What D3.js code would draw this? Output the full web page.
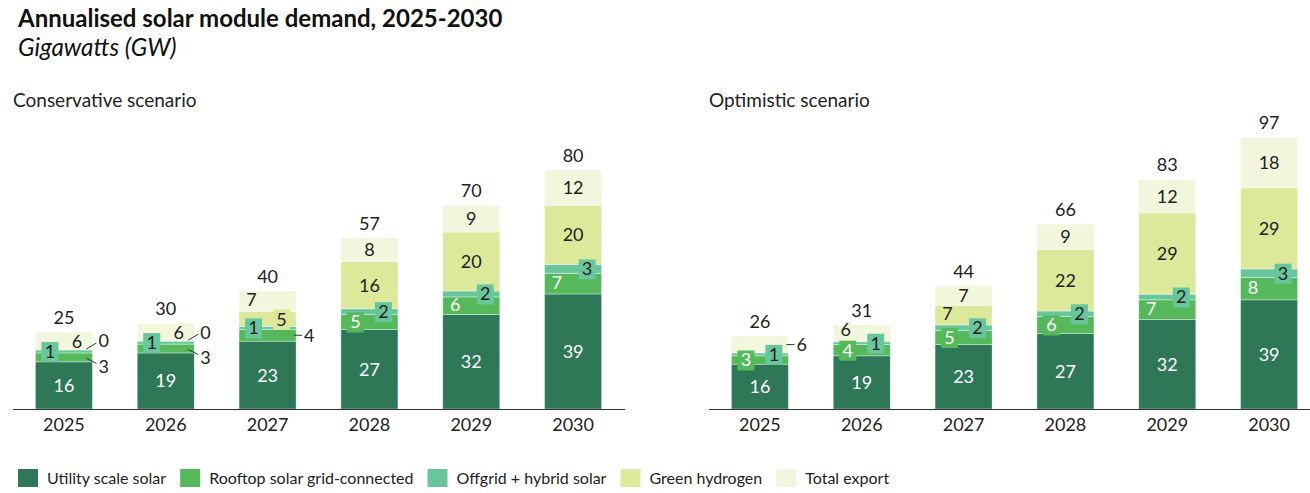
<!DOCTYPE html>
<html><head><meta charset="utf-8">
<script src="https://cdn.jsdelivr.net/npm/d3@7"></script>
<style>body{margin:0;background:#fff;} svg{font-family:Lato, "Noto Sans", sans-serif;}</style>
</head><body><svg id="c" width="1310" height="493"></svg>
<script>
const years = ["2025","2026","2027","2028","2029","2030"];
const seriesNames = ["Utility scale solar","Rooftop solar grid-connected","Offgrid + hybrid solar","Green hydrogen","Total export"];

const consUtility  = [16,19,23,27,32,39];
const consRooftop  = [3,3,4,5,6,7];
const consOffgrid  = [1,1,1,2,2,3];
const consHydrogen = [0,0,5,16,20,20];
const consExport   = [6,6,7,8,9,12];
const consTotal    = [25,30,40,57,70,80];

const optUtility  = [16,19,23,27,32,39];
const optRooftop  = [3,4,5,6,7,8];
const optOffgrid  = [1,1,2,2,2,3];
const optHydrogen = [0,0,7,22,29,29];
const optExport   = [6,6,7,9,12,18];
const optTotal    = [26,31,44,66,83,97];

const colors = ["#2e7858","#55b85a","#69c69c","#dce99b","#f2f6dd"];
const labelColors = ["#ffffff","#ffffff","#222222","#222222","#222222"];

// label placement per series (rows) per year (cols)
const consPlace = [
  ["c","c","c","c","c","c"],
  ["od","od","oh","bl","l","l"],
  ["bl","bl","bl","br","br","br"],
  ["ou","ou","br","c","c","c"],
  ["r","r","l","c","c","c"]
];
const optPlace = [
  ["c","c","c","c","c","c"],
  ["bl","bl","bl","bl","l","l"],
  ["br","br","br","br","br","br"],
  ["n","n","l","c","c","c"],
  ["oh","lu","c","c","c","c"]
];

const svg = d3.select("#c");
const ink = "#222";

svg.append("text").attr("x",18).attr("y",27).attr("font-size",24).attr("font-weight",700).attr("fill","#111")
  .text("Annualised solar module demand, 2025-2030");
svg.append("text").attr("x",18).attr("y",56).attr("font-size",24.3).attr("font-style","italic").attr("fill","#111")
  .text("Gigawatts (GW)");

const baseY = 409;
const panels = [
  {title:"Conservative scenario", x0:13, x1:624, axisEnd:625, top:409-295,
   series:[consUtility,consRooftop,consOffgrid,consHydrogen,consExport], total:consTotal, place:consPlace},
  {title:"Optimistic scenario", x0:709, x1:1320, axisEnd:1310, top:409-280,
   series:[optUtility,optRooftop,optOffgrid,optHydrogen,optExport], total:optTotal, place:optPlace}
];

panels.forEach(p => {
  const g = svg.append("g");
  g.append("text").attr("x",p.x0).attr("y",107).attr("font-size",19).attr("fill",ink).text(p.title);

  const x = d3.scaleBand().domain(years).range([p.x0,p.x1]).paddingInner(0.44).paddingOuter(0.22);
  const y = d3.scaleLinear().domain([0,100]).range([baseY,p.top]);

  const rows = years.map((yr,i)=>{ const r={year:yr}; p.series.forEach((s,k)=>r[k]=s[i]); return r; });
  const stack = d3.stack().keys([0,1,2,3,4])(rows);

  stack.forEach((layer,k)=>{
    g.selectAll(null).data(layer).enter().append("rect")
      .attr("x",d=>x(d.data.year)).attr("width",x.bandwidth())
      .attr("y",d=>y(d[1])).attr("height",d=>Math.max(0,y(d[0])-y(d[1])))
      .attr("fill",colors[k]).attr("stroke","#ffffff").attr("stroke-opacity",0.45).attr("stroke-width",0.8);
  });

  // axis
  g.append("line").attr("x1",p.x0).attr("x2",p.axisEnd).attr("y1",baseY+0.5).attr("y2",baseY+0.5)
    .attr("stroke","#333").attr("stroke-width",1.2);
  const ax = g.append("g").attr("transform",`translate(0,${baseY})`)
    .call(d3.axisBottom(x).tickSize(0).tickPadding(9));
  ax.select(".domain").remove();
  ax.selectAll("text").attr("font-size",18).attr("font-family","Lato, sans-serif").attr("fill",ink);

  // labels
  const lab = g.append("g");
  stack.forEach((layer,k)=>{
    layer.forEach((d,i)=>{
      const mode = p.place[k][i];
      if(mode==="n") return;
      const v = p.series[k][i];
      const cx = x(d.data.year)+x.bandwidth()/2;
      const right = x(d.data.year)+x.bandwidth();
      const cy = (y(d[0])+y(d[1]))/2;
      let tx=cx, ty=cy, anchor="middle", col=labelColors[k];
      if(mode==="l") { tx=cx-16; ty=cy-1.5; }
      else if(mode==="lu") { tx=cx-16; ty=cy-4; }
      else if(mode==="r") tx=cx+13;
      else if(mode==="bl"||mode==="br"){
        tx = mode==="bl"? cx-14 : cx+14;
        const w = String(v).length*10+7;
        lab.append("rect").attr("x",tx-w/2).attr("y",cy-9.5).attr("width",w).attr("height",20)
          .attr("fill",colors[k]);
      } else if(mode==="ou"){
        lab.append("line").attr("x1",right-6).attr("y1",y(d[1])-1).attr("x2",right+4).attr("y2",y(d[1])-7)
          .attr("stroke","#333").attr("stroke-width",1);
        tx=right+6; ty=y(d[1])-9; anchor="start"; col=ink;
      } else if(mode==="od"){
        lab.append("line").attr("x1",right-6).attr("y1",cy+1).attr("x2",right+4).attr("y2",cy+6)
          .attr("stroke","#333").attr("stroke-width",1);
        tx=right+6; ty=cy+9; anchor="start"; col=ink;
      } else if(mode==="oh"){
        lab.append("line").attr("x1",right-2).attr("y1",cy).attr("x2",right+6).attr("y2",cy)
          .attr("stroke","#333").attr("stroke-width",1);
        tx=right+8; anchor="start"; col=ink;
      }
      lab.append("text").attr("x",tx).attr("y",ty).attr("dy","0.36em").attr("text-anchor",anchor)
        .attr("font-size",18).attr("fill",col).text(v);
    });
  });

  // totals
  g.selectAll(null).data(stack[4]).enter().append("text")
    .attr("x",d=>x(d.data.year)+x.bandwidth()/2).attr("y",d=>y(d[1])-8)
    .attr("text-anchor","middle").attr("font-size",18).attr("fill",ink)
    .text((d,i)=>p.total[i]);
});

// legend
const leg = svg.append("g").attr("transform","translate(18,469)");
let lx = 0;
seriesNames.forEach((n,k)=>{
  leg.append("rect").attr("x",lx).attr("y",0).attr("width",20).attr("height",18).attr("fill",colors[k]);
  const t = leg.append("text").attr("x",lx+29).attr("y",14.5).attr("font-size",16).attr("fill",ink).text(n);
  lx += 29 + t.node().getComputedTextLength() + 14;
});
</script></body></html>
